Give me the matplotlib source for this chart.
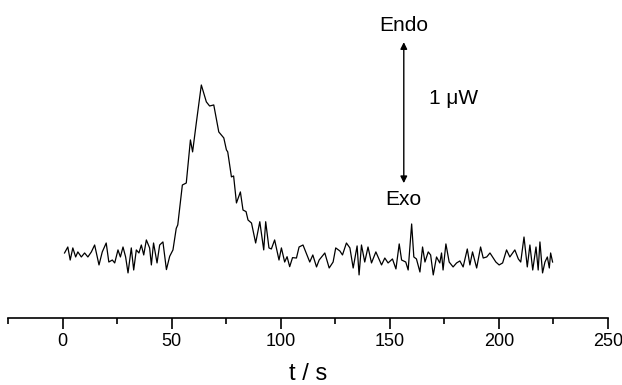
import matplotlib
matplotlib.use("Agg")
import matplotlib.pyplot as plt

plt.rcParams["font.family"] = ["Liberation Sans", "DejaVu Sans"]

# heat flow trace (baseline ~0, arbitrary nW-like units) vs time
time_s = [
    0.9, 2.4, 3.5, 4.7, 6.0, 7.0, 8.6, 10.1, 11.6, 13.2, 14.7, 15.5, 16.7, 18.2,
    20.0, 21.2, 22.8, 23.9, 25.4, 26.5, 27.7, 28.9, 30.0, 31.5, 32.6, 33.8, 35.0,
    36.1, 37.2, 38.4, 39.9, 40.7, 41.7, 43.3, 44.5, 46.0, 47.6, 49.1, 50.6, 52.1,
    52.8, 54.9, 56.7, 58.6, 59.6, 61.3, 63.6, 65.9, 67.4, 69.3, 71.6, 73.9, 75.1,
    75.7, 77.4, 78.4, 79.7, 81.5, 82.7, 84.1, 85.0, 86.6, 88.5, 90.4, 92.2, 93.1,
    94.6, 95.7, 97.2, 99.2, 100.3, 101.8, 102.9, 104.1, 105.4, 107.2, 108.4, 110.2,
    113.3, 114.7, 116.4, 117.6, 120.2, 122.2, 124.0, 125.2, 127.1, 128.3, 130.1,
    131.7, 133.2, 135.0, 135.9, 137.0, 138.5, 140.0, 141.6, 143.6, 146.2, 147.7,
    149.2, 151.2, 152.8, 154.3, 155.4, 157.3, 158.4, 160.0, 161.0, 162.2, 163.8,
    165.0, 166.1, 167.6, 168.7, 169.9, 171.4, 172.9, 173.7, 174.4, 175.7, 177.2,
    179.0, 180.6, 182.1, 183.6, 185.5, 186.7, 187.9, 189.8, 191.6, 192.8, 194.4,
    195.9, 198.6, 200.1, 201.7, 203.5, 205.0, 207.3, 208.9, 210.0, 211.5, 213.0,
    214.2, 215.5, 217.0, 218.0, 218.8, 220.0, 221.1, 222.2, 223.1, 223.7, 224.6,
]
heat_flow = [
    15, 60, -38, 53, -15, 23, -15, 15, -15, 23, 75, 15, -75, 23,
    90, -53, -38, -60, 38, -15, 60, -15, -135, 53, -113, 38, 15,
    75, 0, 113, 53, -75, 90, -60, 75, 98, -110, -10, 38, 200,
    226, 526, 541, 865, 775, 993, 1278, 1151, 1120, 1128, 925, 880, 790,
    775, 587, 594, 391, 474, 338, 326, 263, 240, 90, 250, 38, 250,
    53, 45, 113, -38, 53, -53, -13, -88, -20, -23, 60, 75,
    -53, 0, -90, -38, 15, -98, -53, 53, 30, 0, 90,
    53, -98, 68, -150, 75, -53, 60, -60, 23, -75, -23,
    -60, -30, -105, 83, -38, -53, -113, 233, -15, -30, -128,
    60, -53, 23, 0, -150, -15, -60, 15, -113, 83, -53,
    -90, -60, -45, -90, 45, -75, 23, -98, 60, -23, -15,
    15, -53, -75, -60, 38, -15, 38, -30, -53, 135, -90,
    75, -113, 60, -113, 98, -135, -53, -15, -98, 15, -53,
]

x_ticks = [0, 50, 100, 150, 200, 250]

fig = plt.figure(figsize=(6.22, 3.85), dpi=100)
ax = fig.add_axes([0.0129, 0.174, 0.9646, 0.826])

ax.plot(time_s, heat_flow, color="black", lw=0.9)

ax.set_xlim(-25, 250)
ax.set_ylim(-474, 1917)
ax.set_xticks(x_ticks)
ax.set_xticks([-25, 25, 75, 125, 175, 225], minor=True)
ax.tick_params(axis="x", which="major", direction="out", length=8, width=1.2,
               labelsize=13, pad=3)
ax.tick_params(axis="x", which="minor", direction="out", length=4, width=1.2)
ax.set_yticks([])
for side in ("left", "right", "top"):
    ax.spines[side].set_visible(False)
ax.spines["bottom"].set_linewidth(1.2)
ax.set_xlabel("t / s", fontsize=17, labelpad=9)

# Endo / Exo scale arrow (1 uW)
ax.annotate("", xy=(156.4, 1600), xytext=(156.4, 540),
            arrowprops=dict(arrowstyle="<|-|>", color="black", lw=1.0,
                            mutation_scale=10, shrinkA=0, shrinkB=0))
ax.text(156.4, 1729, "Endo", ha="center", va="center", fontsize=15)
ax.text(156.4, 414, "Exo", ha="center", va="center", fontsize=15)
ax.text(179.4, 1180, "1 μW", ha="center", va="center", fontsize=15)

fig.savefig("out.png", dpi=100)
